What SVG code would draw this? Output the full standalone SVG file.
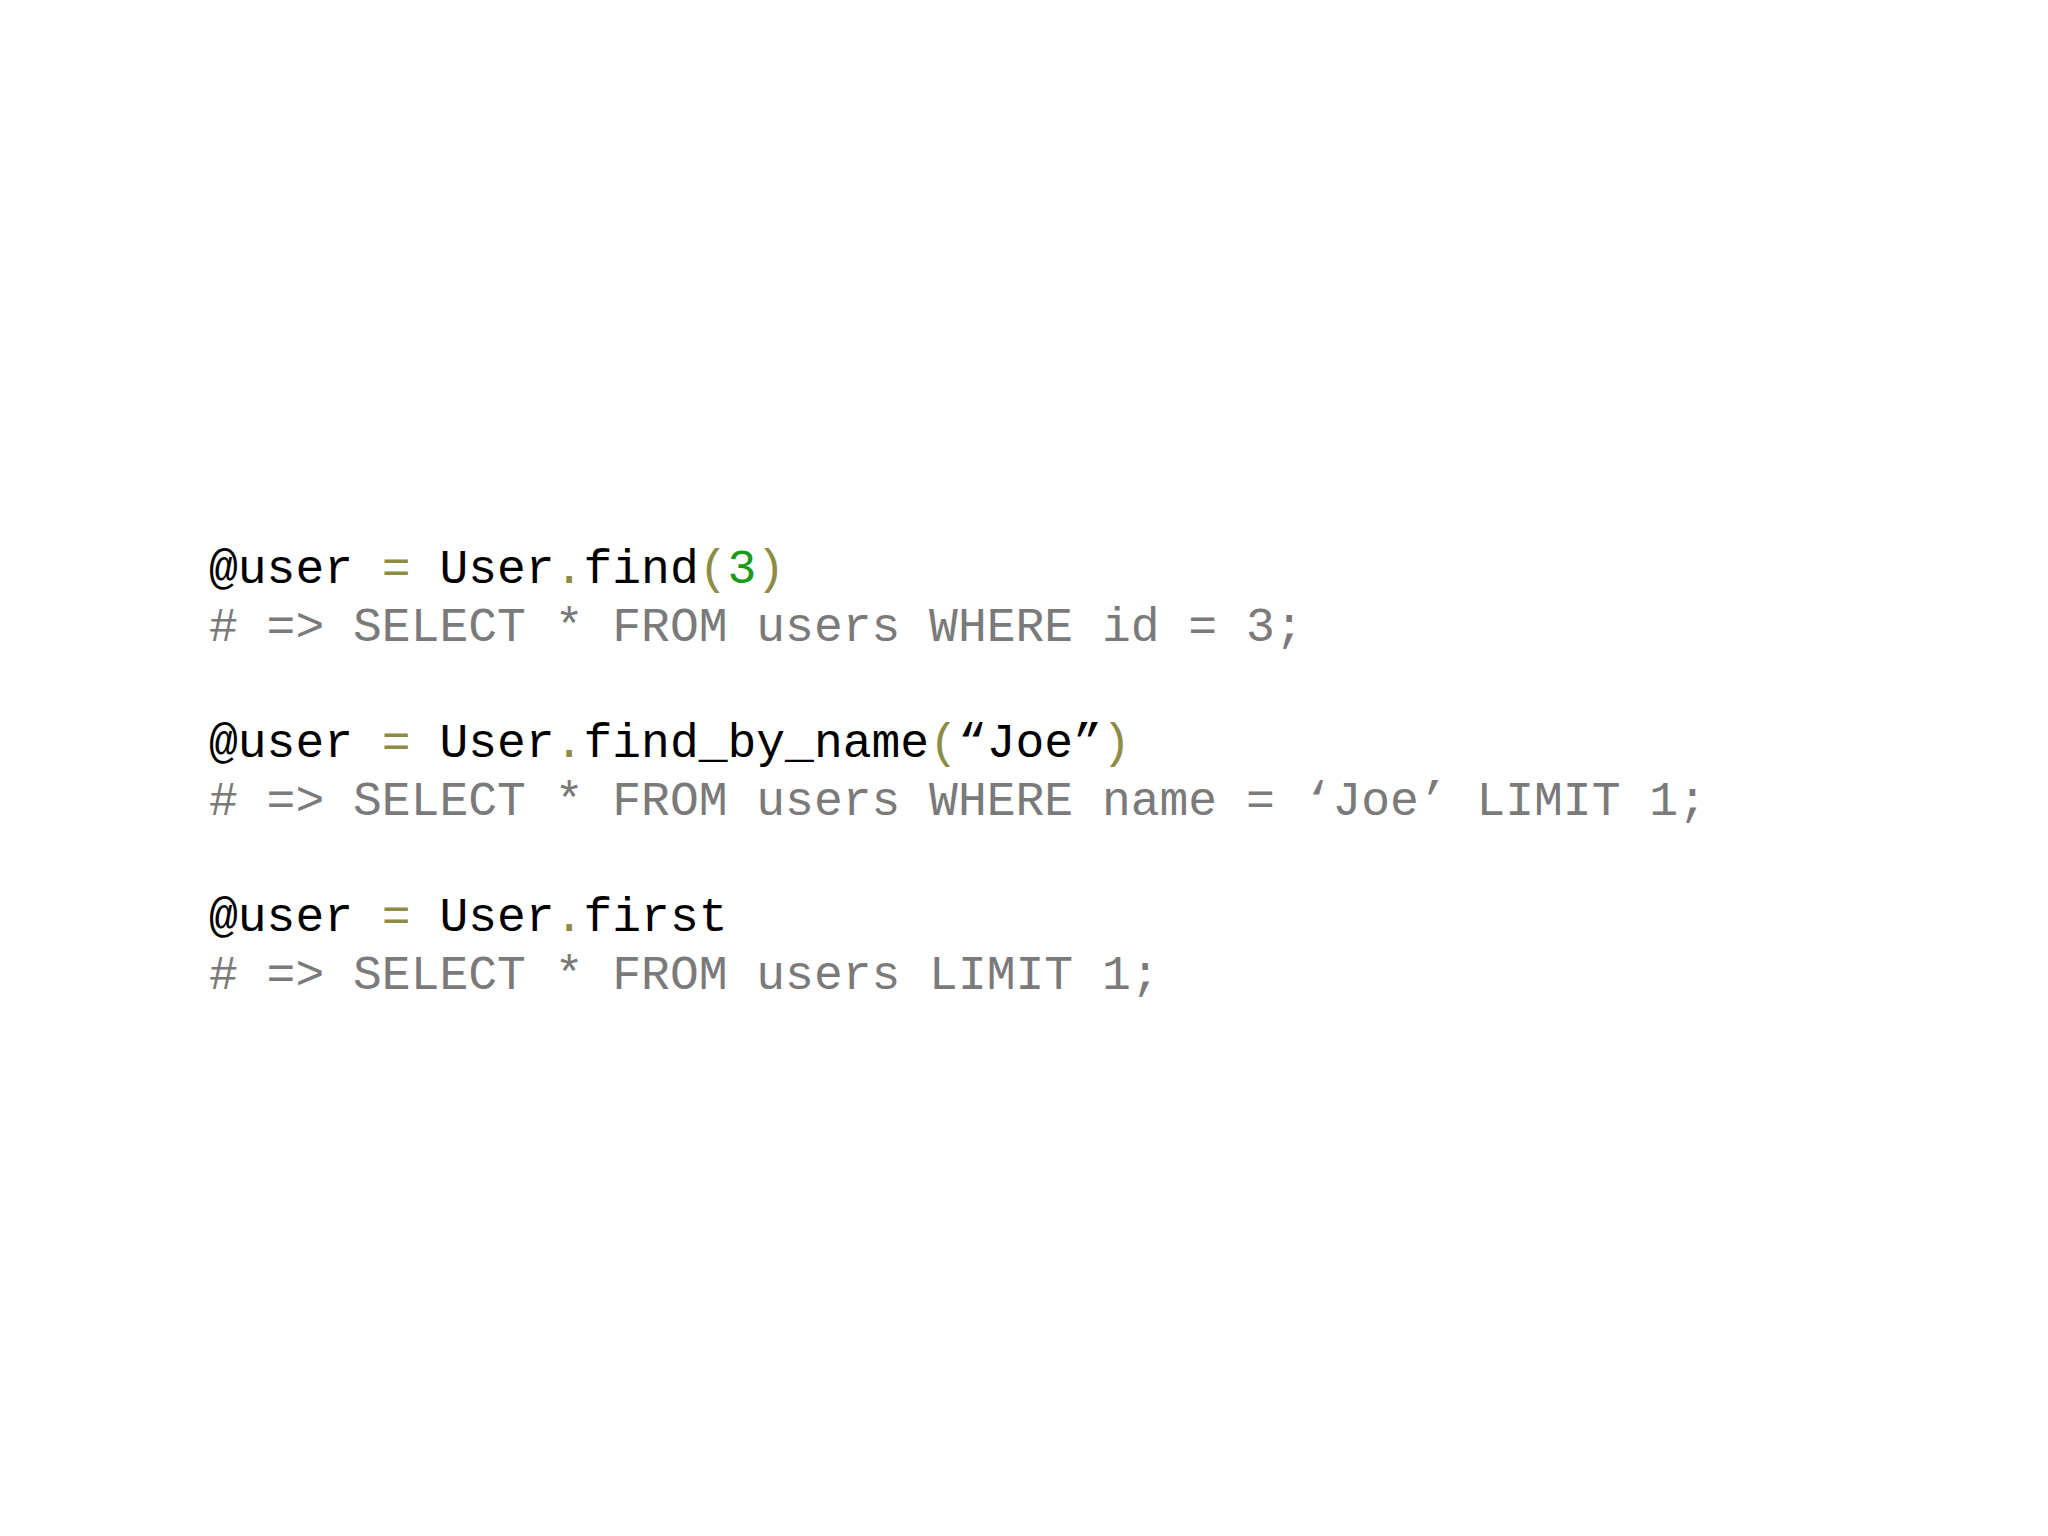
<svg xmlns="http://www.w3.org/2000/svg" width="2048" height="1536" viewBox="0 0 2048 1536">
<style>
text{font-family:"Liberation Mono","Courier New",monospace;font-size:48px;white-space:pre}
.k{fill:#000}.c{fill:#7a7a7a}.o{fill:#8c8c45}.n{fill:#1a9a1a}
</style>
<rect width="2048" height="1536" fill="#fff"/>
<g id="code">
<text x="209" y="583" class="k">@user <tspan class="o">=</tspan> User<tspan class="o">.</tspan>find<tspan class="o">(</tspan><tspan class="n">3</tspan><tspan class="o">)</tspan></text>
<text x="209" y="641" class="c"># =&gt; SELECT * FROM users WHERE id = 3;</text>
<text x="209" y="757" class="k">@user <tspan class="o">=</tspan> User<tspan class="o">.</tspan>find_by_name<tspan class="o">(</tspan>“Joe”<tspan class="o">)</tspan></text>
<text x="209" y="815" class="c"># =&gt; SELECT * FROM users WHERE name = ‘Joe’ LIMIT 1;</text>
<text x="209" y="931" class="k">@user <tspan class="o">=</tspan> User<tspan class="o">.</tspan>first</text>
<text x="209" y="989" class="c"># =&gt; SELECT * FROM users LIMIT 1;</text>
</g>
</svg>
